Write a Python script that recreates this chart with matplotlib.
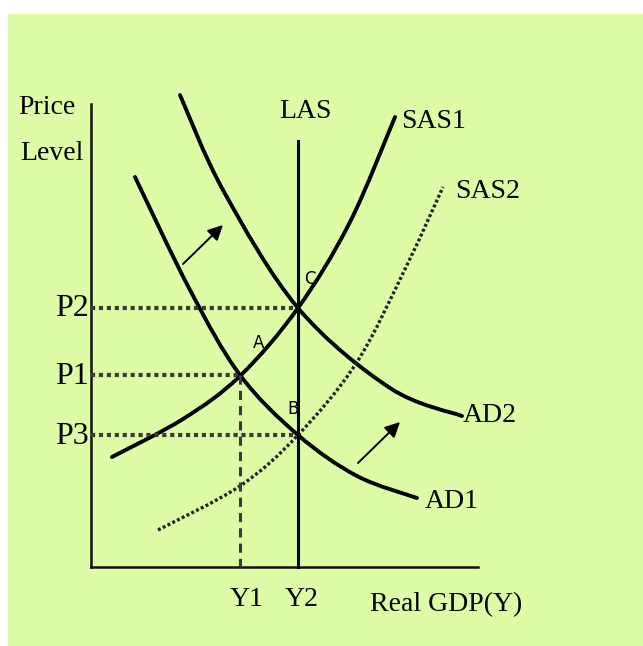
import matplotlib.pyplot as plt
from matplotlib.patches import Rectangle, PathPatch
from matplotlib.path import Path

# diagram, in pixel units (y grows downward)
ad1_x = [135, 190, 240, 298, 357, 417]
ad1_y = [177, 290, 375, 435, 476, 498]
ad2_x = [180, 223, 298, 390, 462]
ad2_y = [95, 190, 308, 388, 416]
sas1_x = [112, 183, 240, 298, 350, 395]
sas1_y = [457, 419, 376, 308, 222, 117]
sas2_x = [158, 240, 298, 357, 407, 443]
sas2_y = [530, 486, 435, 362, 265, 187]

x0, y0 = 91, 567          # origin of the axes
x_end, y_top = 478, 104
las_x, las_top = 298, 141
price_levels = {'P2': 308, 'P1': 375, 'P3': 435}
price_ends = {'P2': 298, 'P1': 240, 'P3': 298}
y1_x = 240

bg = '#ddfca5'
serif = 'Liberation Serif'


def smooth_path(xs, ys):
    # cubic Bezier pieces through every read point
    pts = list(zip(xs, ys))
    verts = [pts[0]]
    codes = [Path.MOVETO]
    for i in range(len(pts) - 1):
        p0 = pts[i - 1] if i > 0 else pts[i]
        p1, p2 = pts[i], pts[i + 1]
        p3 = pts[i + 2] if i + 2 < len(pts) else p2
        c1 = (p1[0] + (p2[0] - p0[0]) / 6, p1[1] + (p2[1] - p0[1]) / 6)
        c2 = (p2[0] - (p3[0] - p1[0]) / 6, p2[1] - (p3[1] - p1[1]) / 6)
        verts += [c1, c2, p2]
        codes += [Path.CURVE4] * 3
    return Path(verts, codes)


fig = plt.figure(figsize=(6.43, 6.46), dpi=100)
ax = fig.add_axes([0, 0, 1, 1])
ax.set_xlim(0, 643)
ax.set_ylim(646, 0)
ax.axis('off')
ax.add_patch(Rectangle((8, 14), 640, 640, color=bg, zorder=0))

# axes
ax.plot([x0, x0], [y_top, y0], color='#111111', lw=1.8)
ax.plot([x0, x_end], [y0, y0], color='#111111', lw=1.8)

# guide lines
for k, py in price_levels.items():
    ax.plot([x0, price_ends[k]], [py, py], color='#3a3a3a', lw=3,
            linestyle=(0, (1, 0.9)))
ax.plot([y1_x, y1_x], [price_levels['P1'], y0], color='#3a3a3a', lw=2.2,
        linestyle=(0, (3, 2)))

# curves
ax.plot([las_x, las_x], [las_top, y0], color='black', lw=2.2)
for xs, ys in [(ad1_x, ad1_y), (ad2_x, ad2_y), (sas1_x, sas1_y)]:
    ax.add_patch(PathPatch(smooth_path(xs, ys), fill=False, edgecolor='black',
                           lw=2.8, capstyle='round'))
ax.add_patch(PathPatch(smooth_path(sas2_x, sas2_y), fill=False,
                       edgecolor='#222222', lw=2.4, linestyle=(0, (0.9, 0.7))))

# shift arrows
for (xs, ys), (xe, ye) in [((183, 264), (223, 225)), ((358, 463), (400, 422))]:
    ax.annotate('', xy=(xe, ye), xytext=(xs, ys),
                arrowprops=dict(arrowstyle='-|>,head_length=0.9,head_width=0.45',
                                color='black', lw=1.4, shrinkA=0, shrinkB=0))

# labels
big = dict(family=serif, fontsize=20, ha='center', va='center', color='black')
ax.text(47, 108, 'Price', **big)
ax.text(52, 153, 'Level', **big)
ax.text(305, 111, 'LAS', **big)
ax.text(434, 122, 'SAS1', **big)
ax.text(488, 191, 'SAS2', **big)
ax.text(490, 416, 'AD2', **big)
ax.text(452, 502, 'AD1', **big)
ax.text(247, 599, 'Y1', **big)
ax.text(302, 599, 'Y2', **big)
ax.text(446, 605, 'Real GDP(Y)', **big)
for k, py in price_levels.items():
    ax.text(72, py + 1, k, family=serif, fontsize=23, ha='center', va='center')

small = dict(family='DejaVu Sans', fontsize=12, ha='center', va='center')
ax.text(259, 343, 'A', **small)
ax.text(293, 409, 'B', **small)
ax.text(310, 279, 'C', **small)

fig.savefig('out.png', dpi=100, facecolor='white')
